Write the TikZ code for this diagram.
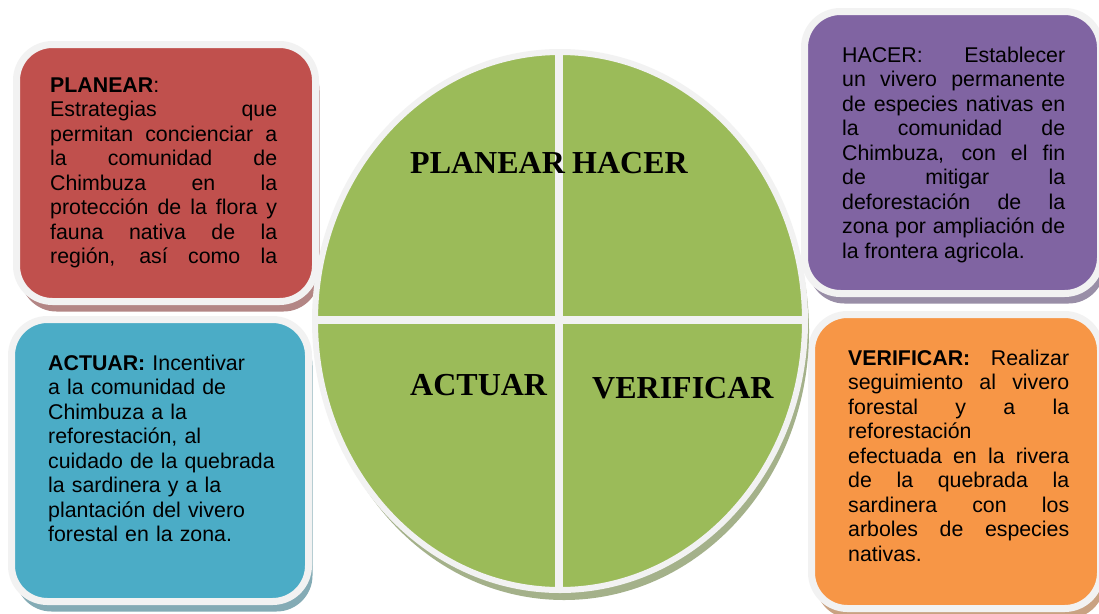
\documentclass[tikz,border=0pt]{standalone}
\usepackage{fontspec}
\setmainfont{Liberation Sans}
\newfontfamily\phasefont{Liberation Serif}
\usetikzlibrary{shadows}

\definecolor{planearred}{HTML}{C0504D}
\definecolor{hacerpurple}{HTML}{8064A2}
\definecolor{actuarblue}{HTML}{4BACC6}
\definecolor{verificarorange}{HTML}{F79646}
\definecolor{cyclegreen}{HTML}{9BBB59}
\definecolor{rimwhite}{HTML}{F2F2F2}

\tolerance=9999
\hbadness=10000

\tikzset{
  card/.style={draw=rimwhite, line width=7pt, rounded corners=36pt, fill=#1,
    drop shadow={shadow xshift=4pt, shadow yshift=-10pt, fill=#1!50!gray!80!white, opacity=1}},
  cardtext/.style={anchor=north west, inner sep=0pt, text width=#1, align=justify,
    font=\fontsize{21.33}{24.5}\selectfont},
  divider/.style={draw=rimwhite, line width=8pt},
  phase/.style={anchor=base west, inner sep=0pt, font=\phasefont\bfseries\fontsize{32}{38}\selectfont},
}

\begin{document}
\begin{tikzpicture}[x=1pt,y=-1pt]
    %\draw[step=50,help lines] (0,0) grid (1099,613);
    \path[use as bounding box, fill=white] (0,0) rectangle (1099,613);

    \draw[card=planearred] (16.5,44.5) rectangle (315.5,301.5);
    \draw[card=hacerpurple] (804.5,11.5) rectangle (1100.5,293.5);
    \draw[card=actuarblue] (11.5,319.5) rectangle (308.5,601.5);
    \draw[card=verificarorange] (811.5,314.5) rectangle (1100.5,608.5);

    \draw[card=cyclegreen, line width=6pt] (560,321) ellipse [x radius=245, y radius=269];
    \draw[divider] (558.5,52) -- (558.5,590);
    \draw[divider] (315,320) -- (805,320);

    \node[phase] (planearlabel) at (410,173) {PLANEAR};
    \node[phase] (hacerlabel) at (572,173) {HACER};
    \node[phase] (actuarlabel) at (410,395) {ACTUAR};
    \node[phase] (verificarlabel) at (592,398) {VERIFICAR};

    \node[cardtext=227pt] (planeartext) at (50,75) {\strut\textbf{PLANEAR}:\linebreak
      Estrategias que\linebreak permitan concienciar a\linebreak la comunidad de\linebreak
      Chimbuza en la\linebreak protección de la flora y\linebreak fauna nativa de la\linebreak
      región, así como la\parfillskip=0pt\par};
    \node[cardtext=223pt] (hacertext) at (842,45) {\strut HACER: Establecer\linebreak
      un vivero permanente\linebreak de especies nativas en\linebreak la comunidad de\linebreak
      Chimbuza, con el fin\linebreak de mitigar la\linebreak deforestación de la\linebreak
      zona por ampliación de\linebreak la frontera agricola.};
    \node[cardtext=230pt, align=left] (actuartext) at (48,353) {\strut\textbf{ACTUAR:} Incentivar\\
      a la comunidad de\\ Chimbuza a la\\ reforestación, al\\ cuidado de la quebrada\\
      la sardinera y a la\\ plantación del vivero\\ forestal en la zona.};
    \node[cardtext=221pt] (verificartext) at (848,348) {\strut\textbf{VERIFICAR:} Realizar\linebreak
      seguimiento al vivero\linebreak forestal y a la\linebreak reforestación\linebreak
      efectuada en la rivera\linebreak de la quebrada la\linebreak sardinera con los\linebreak
      arboles de especies\linebreak nativas.};

\end{tikzpicture}
\end{document}
